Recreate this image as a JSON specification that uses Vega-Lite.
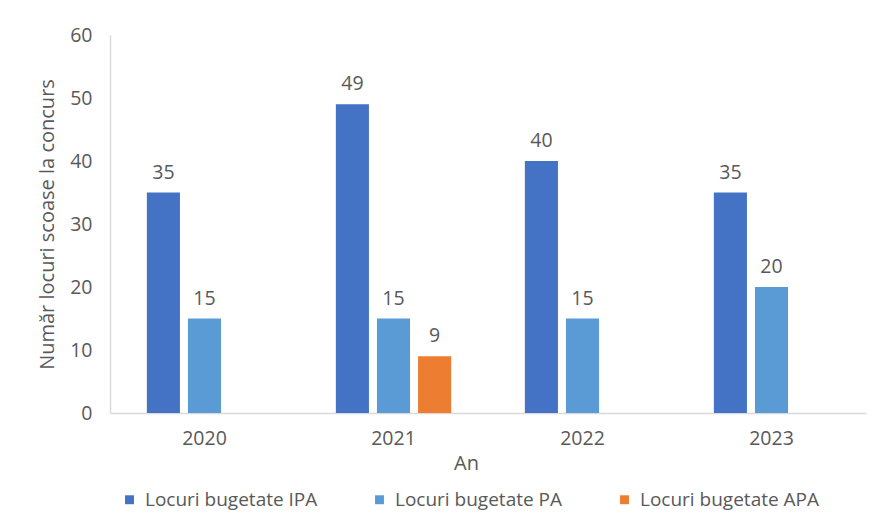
{
  "$schema": "https://vega.github.io/schema/vega-lite/v6.json",
  "width": 756,
  "height": 378,
  "autosize": {"type": "none"},
  "padding": {"left": 110, "top": 35, "right": 18, "bottom": 107},
  "background": "white",
  "config": {
    "font": "Open Sans",
    "view": {"stroke": null},
    "axis": {"labelColor": "#595959", "titleColor": "#595959", "labelFontSize": 19.5, "titleFontSize": 20, "titleFontWeight": "normal", "grid": false, "ticks": false, "domainColor": "#D9D9D9", "domainWidth": 1.5}
  },
  "data": {
    "values": [
      {"an": "2020", "serie": "Locuri bugetate IPA", "valoare": 35},
      {"an": "2020", "serie": "Locuri bugetate PA", "valoare": 15},
      {"an": "2021", "serie": "Locuri bugetate IPA", "valoare": 49},
      {"an": "2021", "serie": "Locuri bugetate PA", "valoare": 15},
      {"an": "2021", "serie": "Locuri bugetate APA", "valoare": 9},
      {"an": "2022", "serie": "Locuri bugetate IPA", "valoare": 40},
      {"an": "2022", "serie": "Locuri bugetate PA", "valoare": 15},
      {"an": "2023", "serie": "Locuri bugetate IPA", "valoare": 35},
      {"an": "2023", "serie": "Locuri bugetate PA", "valoare": 20}
    ]
  },
  "encoding": {
    "x": {"field": "an", "type": "nominal", "title": "An",
      "scale": {"paddingInner": 0.39, "paddingOuter": 0.195},
      "axis": {"labelAngle": 0, "labelPadding": 16, "titlePadding": 6, "titleX": 356}},
    "xOffset": {"field": "serie", "type": "nominal",
      "scale": {"domain": ["Locuri bugetate IPA", "Locuri bugetate PA", "Locuri bugetate APA"], "paddingInner": 0.195, "paddingOuter": 0}},
    "y": {"field": "valoare", "type": "quantitative", "title": "Număr locuri scoase la concurs",
      "scale": {"domain": [0, 60]},
      "axis": {"values": [0, 10, 20, 30, 40, 50, 60], "labelPadding": 18, "titlePadding": 12}}
  },
  "layer": [
    {
      "mark": {"type": "bar"},
      "encoding": {
        "color": {"field": "serie", "type": "nominal",
          "scale": {"domain": ["Locuri bugetate IPA", "Locuri bugetate PA", "Locuri bugetate APA"], "range": ["#4472C4", "#5B9BD5", "#ED7D31"]},
          "legend": {"title": null, "orient": "none", "direction": "horizontal", "columns": 3, "legendX": 10, "legendY": 455,
            "symbolType": "square", "symbolSize": 80, "labelFontSize": 19, "labelColor": "#595959", "labelLimit": 0, "columnPadding": 52, "labelOffset": 6}}
      }
    },
    {
      "mark": {"type": "text", "baseline": "bottom", "dy": -10, "fontSize": 19.5, "color": "#595959"},
      "encoding": {"text": {"field": "valoare", "type": "quantitative"}}
    }
  ]
}
